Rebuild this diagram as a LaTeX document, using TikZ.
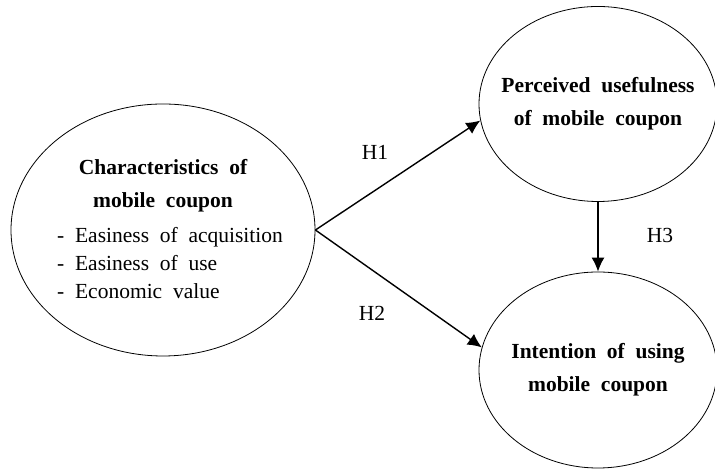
\documentclass[tikz,border=0pt]{standalone}
\usepackage{fontspec}
\setmainfont{Liberation Serif}[WordSpace=2]
\usepackage{tikz}
\usetikzlibrary{shapes.geometric,arrows.meta}
\tikzset{
  every node/.style={font=\fontsize{21.5}{28}\selectfont},
  oval/.style={ellipse,draw,line width=0.8pt,inner sep=0pt},
  ttl/.style={font=\fontsize{21.5}{33}\selectfont\bfseries,align=center,inner sep=0pt},
  lst/.style={align=left,inner sep=0pt},
  ar/.style={-{Latex[length=14pt,width=13pt]},line width=1.4pt},
  hyp/.style={inner sep=0pt},
}

\begin{document}
\begin{tikzpicture}[x=1pt,y=1pt]
\useasboundingbox (0,0) rectangle (715,470);

% constructs
\node[oval,minimum width=304pt,minimum height=252pt] (chr) at (163,240) {};
\node[ttl] (chrttl) at (163,284) {Characteristics of\\mobile coupon};
\node[lst,anchor=west] (chrlst) at (57,207) {- Easiness of acquisition\\- Easiness of use\\- Economic value};
\node[oval,minimum width=238pt,minimum height=195pt] (pu) at (598,366) {};
\node[ttl] (putxt) at (pu) {Perceived usefulness\\of mobile coupon};
\node[oval,minimum width=238pt,minimum height=196pt] (iu) at (598,100) {};
\node[ttl] (iutxt) at (iu) {Intention of using\\mobile coupon};

% paths
\draw[ar] (chr.east) -- (pu.188);
\draw[ar] (chr.east) -- (iu.169);
\draw[ar] (pu.south) -- (iu.north);

\node[hyp] (h1) at (375,318) {H1};
\node[hyp] (h2) at (372,157) {H2};
\node[hyp] (h3) at (660,235) {H3};
\end{tikzpicture}
\end{document}
